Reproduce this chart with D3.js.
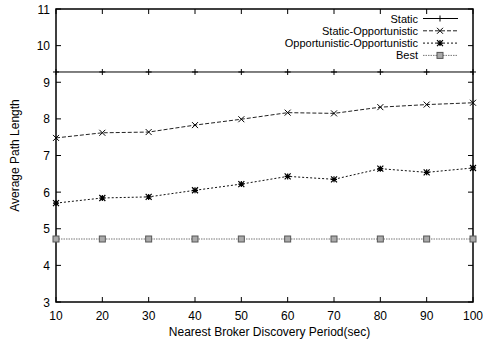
<!DOCTYPE html>
<html><head><meta charset="utf-8">
<script src="https://cdn.jsdelivr.net/npm/d3@7/dist/d3.min.js"></script>
<style>body{margin:0;background:#fff}svg{display:block}text{font-family:"Liberation Sans",Arial,sans-serif;font-size:12px;fill:#000}</style>
</head><body><svg id="c" width="483" height="343"></svg>
<script>
const periods = [10,20,30,40,50,60,70,80,90,100];
const staticVals = [9.28,9.28,9.28,9.28,9.28,9.28,9.28,9.28,9.28,9.28];
const staticOpp = [7.48,7.62,7.64,7.83,7.99,8.17,8.15,8.32,8.39,8.44];
const oppOpp = [5.70,5.84,5.87,6.05,6.22,6.43,6.35,6.64,6.54,6.66];
const best = [4.72,4.72,4.72,4.72,4.72,4.72,4.72,4.72,4.72,4.72];
const xTicks = [10,20,30,40,50,60,70,80,90,100];
const yTicks = [3,4,5,6,7,8,9,10,11];
const seriesNames = ["Static","Static-Opportunistic","Opportunistic-Opportunistic","Best"];

const svg = d3.select("#c");
const L=56,R=473,T=9,B=302;
const x = d3.scaleLinear().domain([10,100]).range([L,R]);
const y = d3.scaleLinear().domain([3,11]).range([B,T]);

svg.append("rect").attr("x",L).attr("y",T).attr("width",R-L).attr("height",B-T)
  .attr("fill","none").attr("stroke","#000").attr("stroke-width",1.5);

const tk=5;
const g = svg.append("g");
xTicks.forEach(v=>{
  g.append("line").attr("x1",x(v)).attr("x2",x(v)).attr("y1",B).attr("y2",B-tk).attr("stroke","#000");
  g.append("line").attr("x1",x(v)).attr("x2",x(v)).attr("y1",T).attr("y2",T+tk).attr("stroke","#000");
  g.append("text").attr("x",x(v)).attr("y",B+18).attr("text-anchor","middle").text(v);
});
yTicks.forEach(v=>{
  g.append("line").attr("x1",L).attr("x2",L+tk).attr("y1",y(v)).attr("y2",y(v)).attr("stroke","#000");
  g.append("line").attr("x1",R).attr("x2",R-tk).attr("y1",y(v)).attr("y2",y(v)).attr("stroke","#000");
  g.append("text").attr("x",L-6).attr("y",y(v)+4.5).attr("text-anchor","end").text(v);
});

svg.append("text").attr("x",(L+R)/2+5).attr("y",336).attr("text-anchor","middle").text("Nearest Broker Discovery Period(sec)");
svg.append("text").attr("transform",`translate(19,${(T+B)/2}) rotate(-90)`).attr("text-anchor","middle").text("Average Path Length");

const styles = [
  {data:staticVals, dash:null, color:"#000", marker:"plus"},
  {data:staticOpp, dash:"4,2", color:"#222", marker:"cross"},
  {data:oppOpp, dash:"2,2", color:"#111", marker:"star"},
  {data:best, dash:"1.5,1", color:"#777", marker:"square"}
];

function drawMarker(sel, type, cx, cy){
  const s=3;
  if(type==="plus"){
    sel.append("path").attr("d",`M${cx-s},${cy}H${cx+s}M${cx},${cy-s}V${cy+s}`).attr("stroke","#000").attr("stroke-width",1);
  } else if(type==="cross"){
    sel.append("path").attr("d",`M${cx-s},${cy-s}L${cx+s},${cy+s}M${cx-s},${cy+s}L${cx+s},${cy-s}`).attr("stroke","#000").attr("stroke-width",1);
  } else if(type==="star"){
    sel.append("path").attr("d",`M${cx-s},${cy-s}L${cx+s},${cy+s}M${cx-s},${cy+s}L${cx+s},${cy-s}M${cx-s},${cy}H${cx+s}M${cx},${cy-s}V${cy+s}`).attr("stroke","#000").attr("stroke-width",1.2);
  } else {
    sel.append("rect").attr("x",cx-3).attr("y",cy-3).attr("width",6).attr("height",6).attr("fill","#aaa").attr("stroke","#555").attr("stroke-width",1);
  }
}

const line = d3.line().x((d,i)=>x(periods[i])).y(d=>y(d));
styles.forEach((st,k)=>{
  const p = svg.append("path").attr("d",line(st.data)).attr("fill","none")
    .attr("stroke",st.color).attr("stroke-width",1);
  if(st.dash) p.attr("stroke-dasharray",st.dash);
  st.data.forEach((v,i)=>drawMarker(svg,st.marker,x(periods[i]),y(v)));
  const ly = 18.5 + k*12.3;
  svg.append("text").attr("x",418).attr("y",ly+4).attr("text-anchor","end")
    .style("font-size","11px").text(seriesNames[k]);
  const lp = svg.append("line").attr("x1",423).attr("x2",458).attr("y1",ly).attr("y2",ly)
    .attr("stroke",st.color).attr("stroke-width",1);
  if(st.dash) lp.attr("stroke-dasharray",st.dash);
  drawMarker(svg,st.marker,440,ly);
});
</script></body></html>
